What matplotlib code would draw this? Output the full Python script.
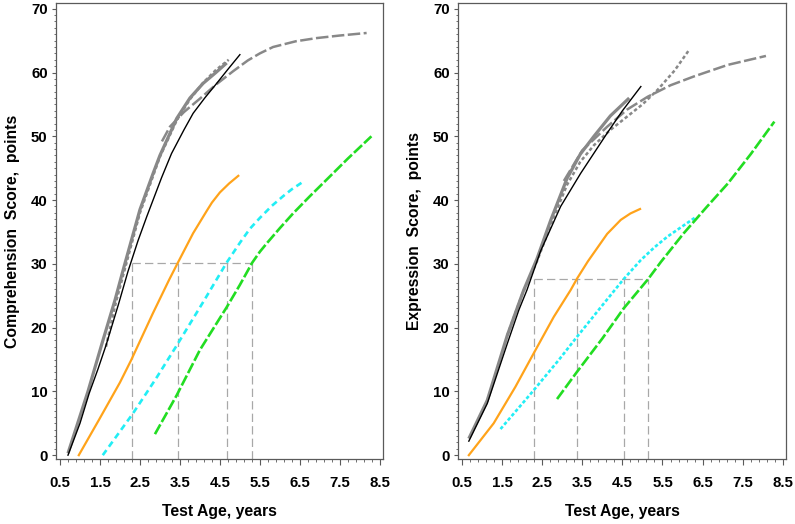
import numpy as np
import matplotlib
matplotlib.use("Agg")
import matplotlib.pyplot as plt

plt.rcParams['font.family'] = ['Liberation Sans', 'DejaVu Sans']
plt.rcParams['font.weight'] = 'bold'
plt.rcParams['lines.scale_dashes'] = False

# ---- Comprehension (left) ----
comp_black_x = [0.7, 1.0, 1.23, 1.45, 1.65, 1.96, 2.2, 2.45, 2.67, 3.04, 3.29, 3.6, 3.83, 4.12, 4.42, 4.7, 5.0]
comp_black_y = [0.0, 5.0, 9.7, 13.5, 17.2, 23.6, 28.8, 33.6, 37.4, 43.5, 47.3, 51.0, 53.6, 56.0, 58.3, 60.5, 62.8]
comp_gray_x = [0.7, 1.2, 1.55, 1.875, 2.1, 2.5, 2.83, 3.0, 3.42, 3.75, 4.08, 4.4, 4.67]
comp_gray_y = [0.3, 10.0, 17.5, 24.3, 29.5, 38.5, 44.2, 47.0, 52.8, 56.0, 58.3, 60.0, 61.5]
comp_dot_x = [1.65, 1.9, 2.2, 2.5, 3.0, 3.42, 3.75, 4.08, 4.4, 4.72]
comp_dot_y = [17.0, 24.0, 31.0, 38.0, 46.8, 52.5, 55.8, 58.4, 60.4, 62.0]
comp_ldash_x = [3.05, 3.25, 3.6, 4.0, 4.4, 4.83, 5.2, 5.5, 5.83, 6.4, 6.92, 7.5, 8.17]
comp_ldash_y = [49.2, 51.5, 53.8, 55.9, 58.1, 60.2, 61.9, 63.0, 64.0, 64.9, 65.4, 65.8, 66.2]
comp_orange_x = [0.97, 1.48, 2.0, 2.28, 2.82, 3.23, 3.45, 3.83, 4.17, 4.3, 4.5, 4.73, 4.96]
comp_orange_y = [0.0, 5.6, 11.4, 14.9, 22.2, 27.5, 30.2, 34.8, 38.3, 39.6, 41.2, 42.6, 43.8]
comp_cyan_x = [1.57, 2.32, 2.9, 3.42, 4.08, 4.67, 5.0, 5.25, 5.5, 5.8, 6.08, 6.3, 6.54]
comp_cyan_y = [0.0, 6.5, 12.0, 17.2, 24.0, 30.2, 33.3, 35.5, 37.2, 39.1, 40.6, 41.7, 42.7]
comp_green_x = [2.875, 3.42, 4.0, 4.67, 5.0, 5.31, 5.5, 5.67, 6.0, 6.33, 6.75, 7.17, 7.7, 8.29]
comp_green_y = [3.3, 9.4, 16.5, 23.2, 26.7, 30.2, 31.9, 33.2, 35.6, 37.9, 40.6, 43.2, 46.5, 50.0]
comp_ref_y = 30.1
comp_ref_x = [2.29, 3.45, 4.67, 5.31]

# ---- Expression (right) ----
expr_black_x = [0.67, 1.13, 1.63, 1.92, 2.12, 2.46, 2.96, 3.46, 4.12, 4.5, 4.96]
expr_black_y = [2.2, 8.1, 17.5, 22.8, 25.9, 32.0, 39.0, 44.2, 50.5, 54.0, 57.8]
expr_gray_x = [0.67, 1.13, 1.63, 2.04, 2.37, 2.71, 3.12, 3.45, 3.79, 4.2, 4.67]
expr_gray_y = [2.6, 8.6, 18.8, 25.9, 30.8, 36.8, 43.4, 47.2, 50.0, 53.2, 56.0]
expr_dot_x = [1.63, 2.0, 2.37, 2.8, 3.12, 3.45, 3.79, 4.2, 4.62, 5.0, 5.38, 5.8, 6.17]
expr_dot_y = [18.8, 25.2, 30.4, 37.5, 42.4, 46.0, 48.6, 51.0, 53.1, 55.0, 57.3, 60.3, 63.6]
expr_ldash_x = [3.04, 3.5, 4.12, 4.62, 5.13, 5.7, 6.29, 7.13, 8.08]
expr_ldash_y = [43.0, 47.8, 51.5, 54.2, 56.2, 58.0, 59.4, 61.2, 62.6]
expr_orange_x = [0.67, 1.29, 1.83, 2.29, 2.79, 3.21, 3.37, 3.64, 4.12, 4.46, 4.7, 4.94]
expr_orange_y = [0.0, 5.0, 10.7, 16.0, 21.7, 25.9, 27.7, 30.4, 34.7, 36.9, 37.9, 38.6]
expr_cyan_x = [1.46, 2.21, 2.91, 3.36, 4.0, 4.53, 4.96, 5.3, 5.63, 6.0, 6.3]
expr_cyan_y = [4.1, 9.6, 14.9, 18.5, 23.5, 27.6, 30.6, 32.6, 34.3, 35.9, 37.2]
expr_green_x = [2.87, 3.36, 4.0, 4.53, 5.14, 5.46, 6.03, 6.6, 7.13, 7.7, 8.29]
expr_green_y = [8.8, 13.0, 18.3, 23.0, 27.6, 30.3, 34.8, 38.9, 42.6, 47.2, 52.3]
expr_ref_y = 27.7
expr_ref_x = [2.29, 3.37, 4.53, 5.14]

x_ticks = [0.5, 1.5, 2.5, 3.5, 4.5, 5.5, 6.5, 7.5, 8.5]
y_ticks = [0, 10, 20, 30, 40, 50, 60, 70]

GRAY = '#888888'
REF = '#a8a8a8'
FRAME = '#5a5a5a'


def draw_panel(ax, d, ylabel, ref_y, ref_x):
    ax.plot(d['black'][0], d['black'][1], color='black', lw=1.0, zorder=5)
    ax.plot(d['gray'][0], d['gray'][1], color=GRAY, lw=2.3, solid_capstyle='butt', zorder=4)
    ax.plot(d['dot'][0], d['dot'][1], color=GRAY, lw=1.8, dashes=(2.5, 1.8), zorder=4)
    ax.plot(d['ldash'][0], d['ldash'][1], color=GRAY, lw=1.8, dashes=(9, 2.5), zorder=4)
    ax.plot(d['orange'][0], d['orange'][1], color='#FFA31A', lw=1.6, zorder=3)
    ax.plot(d['cyan'][0], d['cyan'][1], color='#22EEF5', lw=1.9, dashes=d['cyan_dash'], zorder=3)
    ax.plot(d['green'][0], d['green'][1], color='#22DD22', lw=1.9, dashes=(8, 2), zorder=3)

    ybot = -0.6
    ax.plot([ref_x[0], ref_x[-1]], [ref_y, ref_y], color=REF, lw=0.9, dashes=(6, 3), zorder=2)
    for xv in ref_x:
        ax.plot([xv, xv], [ybot, ref_y], color=REF, lw=0.9, dashes=(6, 3), zorder=2)

    ax.set_xlim(0.4, 8.58)
    ax.set_ylim(ybot, 70.9)
    ax.set_xticks(x_ticks)
    ax.set_xticklabels(['%.1f' % v for v in x_ticks])
    ax.set_xticks(np.arange(0.5, 8.6, 0.2), minor=True)
    ax.set_yticks(y_ticks)
    ax.set_yticks(np.arange(0, 71, 1), minor=True)
    for s in ax.spines.values():
        s.set_color(FRAME)
        s.set_linewidth(0.9)
    ax.tick_params(axis='both', which='major', colors=FRAME, labelcolor='black',
                   labelsize=10.8, width=0.8)
    ax.tick_params(axis='x', which='major', length=4.5, pad=8)
    ax.tick_params(axis='y', which='major', length=3, pad=3)
    ax.tick_params(axis='x', which='minor', length=2.5, colors=FRAME, width=0.6)
    ax.tick_params(axis='y', which='minor', length=1.8, colors=FRAME, width=0.6)
    for lab in ax.get_xticklabels() + ax.get_yticklabels():
        lab.set_fontweight('bold')
    ax.set_xlabel('Test Age, years', fontsize=11.3, fontweight='bold', labelpad=10)
    ax.set_ylabel(ylabel, fontsize=11.3, fontweight='bold', labelpad=8)


fig = plt.figure(figsize=(7.95, 5.24), dpi=100)
ax1 = fig.add_axes([56 / 795, 1 - 459 / 524, 327 / 795, 456 / 524])
ax2 = fig.add_axes([458 / 795, 1 - 459 / 524, 328 / 795, 456 / 524])

comp = {
    'black': (comp_black_x, comp_black_y),
    'gray': (comp_gray_x, comp_gray_y),
    'dot': (comp_dot_x, comp_dot_y),
    'ldash': (comp_ldash_x, comp_ldash_y),
    'orange': (comp_orange_x, comp_orange_y),
    'cyan': (comp_cyan_x, comp_cyan_y),
    'green': (comp_green_x, comp_green_y),
    'cyan_dash': (4.5, 3),
}
expr = {
    'black': (expr_black_x, expr_black_y),
    'gray': (expr_gray_x, expr_gray_y),
    'dot': (expr_dot_x, expr_dot_y),
    'ldash': (expr_ldash_x, expr_ldash_y),
    'orange': (expr_orange_x, expr_orange_y),
    'cyan': (expr_cyan_x, expr_cyan_y),
    'green': (expr_green_x, expr_green_y),
    'cyan_dash': (2.5, 1.6),
}

draw_panel(ax1, comp, 'Comprehension  Score,  points', comp_ref_y, comp_ref_x)
draw_panel(ax2, expr, 'Expression  Score,  points', expr_ref_y, expr_ref_x)

fig.savefig('out.png', dpi=100)
